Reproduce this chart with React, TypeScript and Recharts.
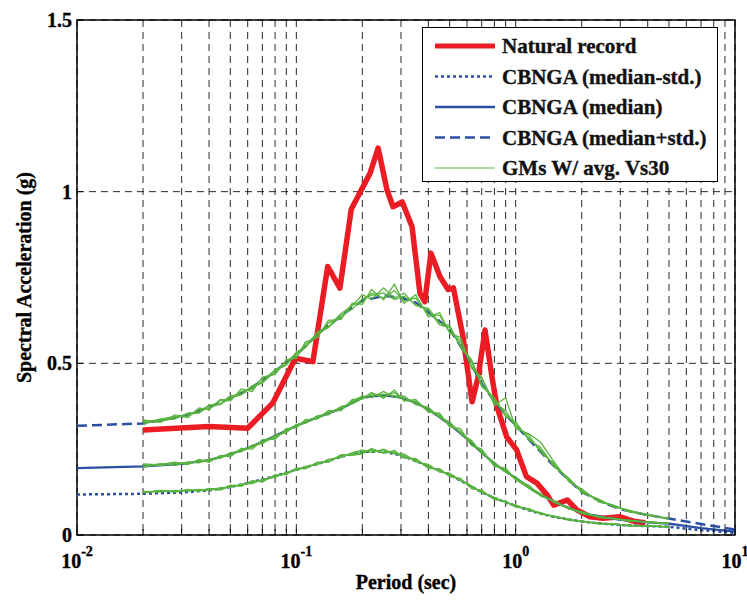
import { LineChart, Line, XAxis, YAxis, CartesianGrid, ReferenceArea, Legend } from 'recharts';

const FONT = '"Liberation Serif", "Times New Roman", Times, serif';
const RED = '#ec1c24';
const BLUE = '#2c4fa3';
const GREEN = '#58b43e';

// axis ticks
const xTicks = [
  0.01, 0.02, 0.03, 0.04, 0.05, 0.06, 0.07, 0.08, 0.09,
  0.1, 0.2, 0.3, 0.4, 0.5, 0.6, 0.7, 0.8, 0.9,
  1, 2, 3, 4, 5, 6, 7, 8, 9, 10,
];
const decadeTicks = [0.01, 0.1, 1, 10];
const decadeExps = ['-2', '-1', '0', '1'];
const yTicks = [0, 0.5, 1, 1.5];

// natural record
const recordPeriods = [
  0.02, 0.04, 0.06, 0.078, 0.099, 0.119, 0.139, 0.158, 0.178, 0.217,
  0.236, 0.259, 0.276, 0.304, 0.337, 0.366, 0.385, 0.411, 0.452, 0.492,
  0.52, 0.575, 0.633, 0.674, 0.725, 0.78, 0.822, 0.91, 1.01, 1.12,
  1.25, 1.39, 1.49, 1.72, 1.9, 2.18, 2.5, 3.0, 3.5, 3.9,
];
const recordSa = [
  0.306, 0.316, 0.311, 0.384, 0.515, 0.505, 0.782, 0.719, 0.949, 1.054,
  1.127, 1.005, 0.956, 0.97, 0.898, 0.704, 0.68, 0.821, 0.752, 0.715,
  0.72, 0.578, 0.388, 0.46, 0.597, 0.46, 0.374, 0.286, 0.248, 0.17,
  0.151, 0.117, 0.087, 0.102, 0.073, 0.053, 0.049, 0.053, 0.039, 0.036,
];

// CBNGA prediction
const ngaPeriods = [
  0.01, 0.02, 0.03, 0.04, 0.05, 0.06, 0.075, 0.1, 0.13, 0.16,
  0.2, 0.25, 0.3, 0.35, 0.4, 0.5, 0.6, 0.7, 0.8, 0.9,
  1.0, 1.2, 1.5, 2.0, 2.5, 3.0, 4.0, 5.0, 7.0, 10.0,
];
const ngaMinusStd = [
  0.118, 0.12, 0.124, 0.13, 0.14, 0.151, 0.167, 0.19, 0.21, 0.228,
  0.242, 0.243, 0.232, 0.216, 0.2, 0.176, 0.148, 0.125, 0.108, 0.095,
  0.085, 0.068, 0.052, 0.039, 0.033, 0.029, 0.026, 0.024, 0.014, 0.006,
];
const ngaMedian = [
  0.195, 0.2, 0.207, 0.218, 0.235, 0.253, 0.28, 0.318, 0.347, 0.368,
  0.4, 0.407, 0.4, 0.385, 0.366, 0.322, 0.28, 0.24, 0.208, 0.185,
  0.166, 0.13, 0.096, 0.064, 0.052, 0.044, 0.037, 0.033, 0.02, 0.01,
];
const ngaPlusStd = [
  0.318, 0.325, 0.345, 0.372, 0.398, 0.422, 0.463, 0.525, 0.594, 0.638,
  0.683, 0.696, 0.692, 0.677, 0.648, 0.6, 0.52, 0.44, 0.39, 0.35,
  0.32, 0.265, 0.2, 0.125, 0.095, 0.075, 0.058, 0.048, 0.032, 0.016,
];

// selected ground motions (four per band)
const gmPeriods = [
  0.02, 0.024, 0.028, 0.032, 0.036, 0.04, 0.045, 0.05, 0.056, 0.063, 0.07,
  0.08, 0.09, 0.1, 0.11, 0.125, 0.14, 0.16, 0.18, 0.2, 0.22,
  0.25, 0.28, 0.31, 0.35, 0.4, 0.45, 0.5, 0.56, 0.63, 0.7,
  0.8, 0.9, 1.0, 1.15, 1.3, 1.5, 1.75, 2.0, 2.4, 2.8,
  3.3, 4.0, 5.0,
];
const gmUpper1 = [
  0.33, 0.335, 0.338, 0.355, 0.358, 0.378, 0.383, 0.405, 0.41, 0.435, 0.445,
  0.482, 0.497, 0.532, 0.548, 0.592, 0.606, 0.645, 0.668, 0.7, 0.686,
  0.72, 0.69, 0.705, 0.668, 0.66, 0.618, 0.61, 0.55, 0.51, 0.432,
  0.4, 0.345, 0.33, 0.276, 0.255, 0.198, 0.165, 0.124, 0.104, 0.082,
  0.072, 0.057, 0.049,
];
const gmUpper2 = [
  0.322, 0.338, 0.345, 0.346, 0.366, 0.368, 0.392, 0.394, 0.418, 0.425, 0.456,
  0.47, 0.508, 0.52, 0.556, 0.58, 0.618, 0.632, 0.67, 0.678, 0.705,
  0.69, 0.712, 0.682, 0.69, 0.642, 0.64, 0.592, 0.565, 0.492, 0.455,
  0.385, 0.362, 0.315, 0.29, 0.24, 0.208, 0.158, 0.13, 0.098, 0.085,
  0.069, 0.059, 0.047,
];
const gmUpper3 = [
  0.328, 0.33, 0.343, 0.352, 0.355, 0.376, 0.38, 0.4, 0.408, 0.432, 0.442,
  0.478, 0.495, 0.528, 0.545, 0.588, 0.604, 0.64, 0.658, 0.688, 0.698,
  0.705, 0.686, 0.695, 0.672, 0.655, 0.612, 0.605, 0.548, 0.505, 0.438,
  0.392, 0.352, 0.322, 0.282, 0.248, 0.202, 0.162, 0.127, 0.101, 0.084,
  0.071, 0.058, 0.048,
];
const gmUpper4 = [
  0.335, 0.328, 0.35, 0.342, 0.37, 0.365, 0.395, 0.39, 0.425, 0.418, 0.46,
  0.468, 0.51, 0.515, 0.562, 0.575, 0.625, 0.628, 0.675, 0.672, 0.715,
  0.685, 0.73, 0.675, 0.7, 0.635, 0.648, 0.588, 0.575, 0.485, 0.46,
  0.378, 0.4, 0.31, 0.295, 0.27, 0.212, 0.155, 0.134, 0.096, 0.087,
  0.067, 0.06, 0.046,
];
const gmMid1 = [
  0.205, 0.202, 0.21, 0.208, 0.217, 0.215, 0.229, 0.232, 0.248, 0.255, 0.272,
  0.282, 0.306, 0.315, 0.332, 0.34, 0.358, 0.365, 0.39, 0.405, 0.4,
  0.418, 0.4, 0.405, 0.38, 0.372, 0.342, 0.33, 0.295, 0.275, 0.238,
  0.212, 0.183, 0.168, 0.14, 0.12, 0.095, 0.08, 0.063, 0.054, 0.047,
  0.043, 0.037, 0.034,
];
const gmMid2 = [
  0.2, 0.208, 0.203, 0.213, 0.21, 0.222, 0.223, 0.24, 0.242, 0.262, 0.266,
  0.29, 0.298, 0.322, 0.325, 0.348, 0.35, 0.375, 0.382, 0.398, 0.412,
  0.402, 0.415, 0.392, 0.39, 0.36, 0.35, 0.318, 0.302, 0.262, 0.245,
  0.202, 0.19, 0.162, 0.136, 0.115, 0.098, 0.076, 0.066, 0.052, 0.048,
  0.041, 0.038, 0.033,
];
const gmMid3 = [
  0.207, 0.204, 0.207, 0.211, 0.213, 0.219, 0.226, 0.236, 0.246, 0.258, 0.27,
  0.287, 0.302, 0.318, 0.33, 0.344, 0.356, 0.37, 0.386, 0.402, 0.406,
  0.41, 0.406, 0.398, 0.386, 0.366, 0.346, 0.322, 0.3, 0.27, 0.242,
  0.207, 0.186, 0.164, 0.138, 0.117, 0.096, 0.078, 0.064, 0.053, 0.047,
  0.042, 0.037, 0.034,
];
const gmMid4 = [
  0.198, 0.206, 0.212, 0.205, 0.22, 0.212, 0.232, 0.228, 0.252, 0.25, 0.278,
  0.279, 0.31, 0.312, 0.336, 0.338, 0.362, 0.362, 0.395, 0.396, 0.415,
  0.398, 0.422, 0.39, 0.395, 0.358, 0.355, 0.315, 0.31, 0.26, 0.25,
  0.2, 0.195, 0.16, 0.145, 0.113, 0.1, 0.075, 0.068, 0.051, 0.049,
  0.04, 0.039, 0.033,
];
const gmLow1 = [
  0.127, 0.125, 0.13, 0.128, 0.133, 0.13, 0.138, 0.139, 0.148, 0.15, 0.163,
  0.168, 0.183, 0.188, 0.2, 0.205, 0.22, 0.226, 0.24, 0.248, 0.24,
  0.25, 0.236, 0.236, 0.213, 0.206, 0.183, 0.18, 0.158, 0.143, 0.123,
  0.11, 0.094, 0.087, 0.072, 0.065, 0.052, 0.046, 0.039, 0.035, 0.031,
  0.029, 0.026, 0.024,
];
const gmLow2 = [
  0.124, 0.129, 0.126, 0.131, 0.129, 0.134, 0.131, 0.143, 0.144, 0.156, 0.157,
  0.173, 0.178, 0.193, 0.195, 0.21, 0.213, 0.232, 0.234, 0.238, 0.249,
  0.24, 0.242, 0.226, 0.22, 0.196, 0.19, 0.172, 0.163, 0.137, 0.128,
  0.105, 0.097, 0.083, 0.075, 0.062, 0.054, 0.044, 0.04, 0.033, 0.032,
  0.027, 0.027, 0.023,
];
const gmLow3 = [
  0.126, 0.127, 0.128, 0.129, 0.131, 0.132, 0.135, 0.14, 0.146, 0.153, 0.16,
  0.17, 0.18, 0.19, 0.197, 0.207, 0.216, 0.228, 0.236, 0.243, 0.245,
  0.245, 0.238, 0.231, 0.218, 0.2, 0.187, 0.175, 0.16, 0.141, 0.125,
  0.108, 0.095, 0.085, 0.073, 0.063, 0.053, 0.045, 0.039, 0.034, 0.031,
  0.028, 0.026, 0.024,
];
const gmLow4 = [
  0.123, 0.13, 0.125, 0.133, 0.127, 0.136, 0.133, 0.145, 0.142, 0.158, 0.155,
  0.175, 0.176, 0.195, 0.193, 0.212, 0.212, 0.234, 0.232, 0.236, 0.252,
  0.238, 0.246, 0.224, 0.223, 0.194, 0.193, 0.17, 0.165, 0.135, 0.13,
  0.103, 0.099, 0.081, 0.077, 0.061, 0.056, 0.043, 0.041, 0.032, 0.033,
  0.026, 0.028, 0.023,
];
const gmSets = [
  gmUpper1, gmUpper2, gmUpper3, gmUpper4,
  gmMid1, gmMid2, gmMid3, gmMid4,
  gmLow1, gmLow2, gmLow3, gmLow4,
];

const legendNames = [
  'Natural record',
  'CBNGA (median-std.)',
  'CBNGA (median)',
  'CBNGA (median+std.)',
  'GMs W/ avg. Vs30',
];

const toPoints = (ps: number[], vs: number[]) => ps.map((p, i) => ({ period: p, value: vs[i] }));

const boldText = { fontFamily: FONT, fontWeight: 'bold' as const, fill: '#000', stroke: '#000', strokeWidth: 0.35 };

function BottomTick({ x, y, payload }: any) {
  const i = decadeTicks.indexOf(payload.value);
  return (
    <g>
      <line x1={x} y1={y} x2={x} y2={y - 6} stroke="#000" />
      {i >= 0 && (
        <text x={x} y={y + 33} textAnchor="middle" fontSize={20} style={boldText}>
          <tspan>10</tspan>
          <tspan dy={-12} fontSize={14}>{decadeExps[i]}</tspan>
        </text>
      )}
    </g>
  );
}

function TopTick({ x, y }: any) {
  return <line x1={x} y1={y} x2={x} y2={y + 6} stroke="#000" />;
}

function LeftTick({ x, y, payload }: any) {
  return (
    <g>
      <line x1={x} y1={y} x2={x + 6} y2={y} stroke="#000" />
      <text x={x - 5} y={y + 7} textAnchor="end" fontSize={20} style={boldText}>
        {String(payload.value)}
      </text>
    </g>
  );
}

function RightTick({ x, y }: any) {
  return <line x1={x} y1={y} x2={x - 6} y2={y} stroke="#000" />;
}

function LegendBox() {
  const samples = [
    { stroke: RED, width: 5, dash: undefined },
    { stroke: BLUE, width: 2.5, dash: '3 3' },
    { stroke: BLUE, width: 2.5, dash: undefined },
    { stroke: BLUE, width: 2.5, dash: '10 5' },
    { stroke: '#8fd07c', width: 1.3, dash: undefined },
  ];
  return (
    <div style={{ width: 296, height: 155, border: '1.5px solid #000', background: '#fff', boxSizing: 'border-box' }}>
      <svg width={293} height={152}>
        {legendNames.map((name, i) => {
          const cy = 18 + 30.5 * i;
          const s = samples[i];
          return (
            <g key={name}>
              <line x1={12} x2={72} y1={cy} y2={cy} stroke={s.stroke} strokeWidth={s.width} strokeDasharray={s.dash} />
              <text x={79} y={cy + 7} fontSize={21} style={{ ...boldText, fill: '#111', stroke: '#111' }}>
                {name}
              </text>
            </g>
          );
        })}
      </svg>
    </div>
  );
}

export default function App() {
  return (
    <div style={{ position: 'fixed', left: 0, top: 0, background: '#fff' }}>
      <LineChart width={747} height={606} margin={{ top: 20, right: 12, bottom: 15, left: 17 }}>
        <CartesianGrid stroke="#111" strokeWidth={0.9} strokeDasharray="7 5" />
        <XAxis
          dataKey="period"
          type="number"
          scale="log"
          domain={[0.01, 10]}
          ticks={xTicks}
          interval={0}
          allowDataOverflow
          axisLine={false}
          tickLine={false}
          tickSize={0}
          tickMargin={0}
          height={56}
          tick={<BottomTick />}
          label={{
            value: 'Period (sec)',
            position: 'insideBottom',
            offset: 2,
            style: { ...boldText, fontSize: 20 },
          }}
        />
        <XAxis
          xAxisId="top"
          orientation="top"
          dataKey="period"
          type="number"
          scale="log"
          domain={[0.01, 10]}
          ticks={xTicks}
          interval={0}
          allowDataOverflow
          axisLine={false}
          tickLine={false}
          tickSize={0}
          tickMargin={0}
          height={0}
          tick={<TopTick />}
        />
        <YAxis
          type="number"
          domain={[0, 1.5]}
          ticks={yTicks}
          interval={0}
          allowDataOverflow
          axisLine={false}
          tickLine={false}
          tickSize={0}
          tickMargin={0}
          width={60}
          tick={<LeftTick />}
          label={{
            value: 'Spectral Acceleration (g)',
            angle: -90,
            position: 'insideLeft',
            offset: 7,
            style: { ...boldText, textAnchor: 'middle', fontSize: 20 },
          }}
        />
        <YAxis
          yAxisId="right"
          orientation="right"
          type="number"
          domain={[0, 1.5]}
          ticks={yTicks}
          interval={0}
          allowDataOverflow
          axisLine={false}
          tickLine={false}
          tickSize={0}
          tickMargin={0}
          width={0}
          tick={<RightTick />}
        />
        <ReferenceArea x1={0.01} x2={10} y1={0} y2={1.5} fill="none" stroke="#000" strokeWidth={1.5} />
        <Line
          name="Natural record"
          data={toPoints(recordPeriods, recordSa)}
          dataKey="value"
          stroke={RED}
          strokeWidth={5.5}
          strokeLinejoin="round"
          dot={false}
          activeDot={false}
          isAnimationActive={false}
        />
        <Line
          name="CBNGA (median-std.)"
          data={toPoints(ngaPeriods, ngaMinusStd)}
          dataKey="value"
          stroke={BLUE}
          strokeWidth={2.5}
          strokeDasharray="3 3"
          dot={false}
          activeDot={false}
          isAnimationActive={false}
        />
        <Line
          name="CBNGA (median)"
          data={toPoints(ngaPeriods, ngaMedian)}
          dataKey="value"
          stroke={BLUE}
          strokeWidth={2.2}
          dot={false}
          activeDot={false}
          isAnimationActive={false}
        />
        <Line
          name="CBNGA (median+std.)"
          data={toPoints(ngaPeriods, ngaPlusStd)}
          dataKey="value"
          stroke={BLUE}
          strokeWidth={2.5}
          strokeDasharray="10 5"
          dot={false}
          activeDot={false}
          isAnimationActive={false}
        />
        {gmSets.map((vals, i) => (
          <Line
            key={i}
            name={`GM ${i + 1}`}
            data={toPoints(gmPeriods, vals)}
            dataKey="value"
            stroke={GREEN}
            strokeWidth={1.3}
            dot={false}
            activeDot={false}
            isAnimationActive={false}
          />
        ))}
        <Legend
          layout="vertical"
          align="center"
          verticalAlign="middle"
          wrapperStyle={{ left: 422, top: 27, width: 296, height: 155 }}
          content={() => <LegendBox />}
        />
      </LineChart>
    </div>
  );
}
